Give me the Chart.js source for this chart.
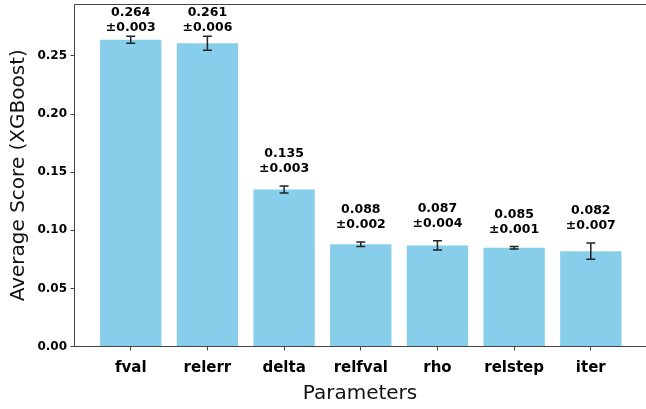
<!DOCTYPE html>
<html>
<head>
<meta charset="utf-8">
<script src="https://cdn.jsdelivr.net/npm/chart.js@4.4.1/dist/chart.umd.min.js"></script>
<style>
  html, body { margin: 0; padding: 0; background: #fff; overflow: hidden; }
  canvas { display: block; }
</style>
</head>
<body>
<canvas id="c" width="646" height="409" style="width:646px;height:409px"></canvas>
<script>
// ---- data ----
const categories = ["fval", "relerr", "delta", "relfval", "rho", "relstep", "iter"];
const means = [0.264, 0.261, 0.135, 0.088, 0.087, 0.085, 0.082];
const stds  = [0.003, 0.006, 0.003, 0.002, 0.004, 0.001, 0.007];
const yTickValues = [0.00, 0.05, 0.10, 0.15, 0.20, 0.25];

const FONT = "'DejaVu Sans', 'Liberation Sans', sans-serif";
const SPINE = '#444';
const TICK_LEN = 4;

const a = (p) => Math.floor(p) + 0.5;

const errorAndLabels = {
  id: 'errorAndLabels',
  afterDatasetsDraw(chart) {
    const ctx = chart.ctx;
    const meta = chart.getDatasetMeta(0);
    const xs = chart.scales.x;
    const ys = chart.scales.y;
    const area = chart.chartArea;
    ctx.save();
    meta.data.forEach((bar, i) => {
      const x = bar.x;
      const yt = ys.getPixelForValue(means[i] + stds[i]);
      const yb = ys.getPixelForValue(means[i] - stds[i]);
      ctx.strokeStyle = '#222';
      ctx.lineWidth = 1.5;
      ctx.beginPath();
      ctx.moveTo(x, yt); ctx.lineTo(x, yb);
      ctx.moveTo(x - 4.5, yt); ctx.lineTo(x + 4.5, yt);
      ctx.moveTo(x - 4.5, yb); ctx.lineTo(x + 4.5, yb);
      ctx.stroke();
      // value labels, kept inside the axes
      let base2 = ys.getPixelForValue(means[i] + stds[i] + 0.012);
      const minBase2 = area.top + 3 + 9 + 15;
      if (base2 < minBase2) base2 = minBase2;
      ctx.fillStyle = '#000';
      ctx.font = "bold 12.5px " + FONT;
      ctx.textAlign = 'center';
      ctx.textBaseline = 'alphabetic';
      ctx.fillText(means[i].toFixed(3), x, base2 - 15);
      ctx.fillText('\u00B1' + stds[i].toFixed(3), x, base2);
    });
    // spines (left, bottom, top) and tick marks
    ctx.strokeStyle = SPINE;
    ctx.lineWidth = 1;
    ctx.beginPath();
    const L = a(area.left), B = a(area.bottom), T = a(area.top), R = area.right;
    ctx.moveTo(R, T); ctx.lineTo(L, T); ctx.lineTo(L, B); ctx.lineTo(R, B);
    categories.forEach((c, i) => {
      const px = a(xs.getPixelForValue(i));
      ctx.moveTo(px, B); ctx.lineTo(px, B + TICK_LEN);
    });
    yTickValues.forEach((v) => {
      const py = a(ys.getPixelForValue(v));
      ctx.moveTo(L - TICK_LEN, py); ctx.lineTo(L, py);
    });
    ctx.stroke();
    ctx.restore();
  }
};

new Chart(document.getElementById('c'), {
  type: 'bar',
  data: {
    datasets: [{
      data: categories.map((c, i) => ({ x: i, y: means[i] })),
      backgroundColor: '#87CEEB',
      borderWidth: 0,
      categoryPercentage: 1.0,
      barPercentage: 0.8
    }]
  },
  options: {
    responsive: false,
    animation: false,
    devicePixelRatio: 1,
    layout: { padding: { top: 4, right: 0, left: 0, bottom: 0 } },
    plugins: { legend: { display: false }, tooltip: { enabled: false } },
    scales: {
      x: {
        type: 'linear',
        min: -0.74,
        max: 6.72,
        offset: false,
        afterBuildTicks(scale) { scale.ticks = categories.map((c, i) => ({ value: i })); },
        afterFit(scale) { scale.height = 62.5; scale.paddingLeft = 0; scale.paddingRight = 0; },
        ticks: {
          autoSkip: false, maxRotation: 0, padding: 9, color: '#000',
          font: { family: FONT, size: 15, weight: 'bold' },
          callback: (v) => categories[Math.round(v)]
        },
        grid: { display: false, offset: false, drawOnChartArea: false, drawTicks: true, tickLength: TICK_LEN },
        border: { display: false },
        title: {
          display: true, text: 'Parameters', color: '#111',
          font: { family: FONT, size: 20, weight: 'normal' },
          padding: { top: 0, bottom: 3 }
        }
      },
      y: {
        min: 0,
        max: 0.2947,
        afterBuildTicks(scale) { scale.ticks = yTickValues.map(v => ({ value: v })); },
        afterFit(scale) { scale.width = 74; scale.paddingTop = 0; scale.paddingBottom = 0; },
        ticks: {
          padding: 3, color: '#000',
          font: { family: FONT, size: 12, weight: 'bold' },
          callback: (v) => Number(v).toFixed(2)
        },
        grid: { display: false, offset: false, drawOnChartArea: false, drawTicks: true, tickLength: TICK_LEN },
        border: { display: false },
        title: {
          display: true, text: 'Average Score (XGBoost)', color: '#111',
          font: { family: FONT, size: 20, weight: 'normal' },
          padding: { top: 7, bottom: 0 }
        }
      }
    }
  },
  plugins: [errorAndLabels]
});
</script>
</body>
</html>
